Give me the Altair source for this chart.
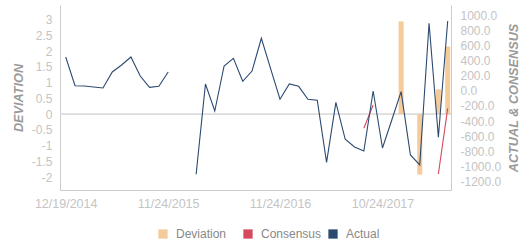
import altair as alt
import pandas as pd

dates = [
    "12/19/2014", "01/23/2015", "02/24/2015", "03/24/2015", "04/23/2015", "05/22/2015",
    "06/23/2015", "07/24/2015", "08/24/2015", "09/23/2015", "10/23/2015", "11/24/2015",
    "12/22/2015", "01/22/2016", "02/23/2016", "03/22/2016", "04/22/2016", "05/24/2016",
    "06/23/2016", "07/22/2016", "08/23/2016", "09/23/2016", "10/24/2016", "11/24/2016",
    "12/22/2016", "01/24/2017", "02/23/2017", "03/24/2017", "04/24/2017", "05/23/2017",
    "06/23/2017", "07/24/2017", "08/24/2017", "09/22/2017", "10/24/2017", "11/24/2017",
    "12/22/2017", "01/24/2018", "02/23/2018", "03/23/2018", "04/23/2018", "05/23/2018",
]

actual = [
    446, 67, 63, 50, 37, 248, 341, 446, 195, 46, 59, 248,
    None, None,
    -1102, 90, -267, 327, 429, 125, 261, 693, 290, -112, 90, 59, -112, -125,
    -944, -152, -640, -742, -795, -3, -755, -385, -12, -847, -979, 891, -614, 921,
]

consensus = [None] * 32 + [-495, -188] + [None] * 6 + [-1098, -231]

deviation = [None] * 36 + [2.95, None, -1.92, None, 0.79, 2.15]

tick_dates = ["12/19/2014", "11/24/2015", "11/24/2016", "10/24/2017"]
series_names = ["Deviation", "Consensus", "Actual"]
series_colors = ["#f5cb9b", "#d5495c", "#2b4a70"]
left_ticks = [-2, -1.5, -1, -0.5, 0, 0.5, 1, 1.5, 2, 2.5, 3]
right_ticks = [-1200, -1000, -800, -600, -400, -200, 0, 200, 400, 600, 800, 1000]

df_act = pd.DataFrame({"date": dates, "value": actual})
df_con = pd.DataFrame({"date": dates, "value": consensus})
df_dev = pd.DataFrame({"date": dates, "value": deviation, "series": "Deviation"}).dropna()

FONT = "Liberation Sans"
LABEL = "#c4c4c4"
TITLE = "#9a9a9a"
AXLINE = "#cccccc"

x_enc = alt.X(
    "date:O",
    sort=dates,
    scale=alt.Scale(type="point", padding=0.483, align=0.633),
    axis=alt.Axis(
        values=tick_dates, labelAngle=0, ticks=False, grid=False, title=None,
        domainColor=AXLINE, labelColor=LABEL, labelFontSize=12.5, labelFont=FONT,
        labelPadding=7, labelOverlap=False,
    ),
)

left_scale = alt.Scale(domain=[-2.41, 3.47], nice=False, zero=False)
left_axis = alt.Axis(
    orient="left", values=left_ticks, title="DEVIATION", ticks=False, grid=False,
    labelExpr="datum.value < 0 ? '-' + format(-datum.value, '~g') : format(datum.value, '~g')",
    domainColor=AXLINE, labelColor=LABEL, labelFontSize=12, labelFont=FONT,
    labelPadding=8, labelOverlap=False, titleColor=TITLE, titleFont=FONT,
    titleFontSize=12.7, titleFontStyle="italic", titleFontWeight="bold",
    titleX=-42, titleY=92.5, titleAngle=270, titleBaseline="middle",
    titleAlign="center",
)

bars = alt.Chart(df_dev).mark_bar(size=5).encode(
    x=x_enc,
    y=alt.Y("value:Q", scale=left_scale, axis=left_axis),
    color=alt.Color(
        "series:N",
        scale=alt.Scale(domain=series_names, range=series_colors),
        legend=alt.Legend(
            title=None, orient="none", legendX=97, legendY=223, direction="horizontal",
            columns=3, gridAlign="all", columnPadding=5, symbolType="square",
            symbolSize=86, symbolStrokeWidth=0, labelFontSize=12, labelFont=FONT,
            labelColor="#888888", labelOffset=7,
        ),
    ),
)

zero = alt.Chart(df_dev).mark_rule(color="#dddddd", strokeWidth=1).encode(
    y=alt.YDatum(0, type="quantitative", scale=left_scale, axis=left_axis)
)

left = alt.layer(zero, bars)

y_right = alt.Y(
    "value:Q",
    scale=alt.Scale(domain=[-1309, 1132], nice=False, zero=False),
    axis=alt.Axis(
        orient="right", values=right_ticks, title="ACTUAL & CONSENSUS", ticks=False, grid=False,
        labelExpr="datum.value < 0 ? '-' + format(-datum.value, '.1f') : format(datum.value, '.1f')",
        domainColor=AXLINE, labelColor=LABEL, labelFontSize=12, labelFont=FONT,
        labelPadding=9, labelOverlap=False, titleColor=TITLE, titleFont=FONT,
        titleFontSize=12.7, titleFontStyle="italic", titleFontWeight="bold",
        titleX=62, titleY=92.5, titleAngle=270, titleBaseline="middle", titleAlign="center",
    ),
)

cons_line = alt.Chart(df_con).mark_line(strokeWidth=1.1, color="#d5495c").encode(
    x=x_enc, y=y_right
)
act_line = alt.Chart(df_act).mark_line(strokeWidth=1.1, color="#2b4a70").encode(
    x=x_enc, y=y_right
)
right = alt.layer(cons_line, act_line)

chart = alt.layer(left, right).resolve_scale(y="independent").properties(
    width=391,
    height=185,
    autosize=alt.AutoSizeParams(type="none"),
    padding={"left": 60, "top": 5, "right": 80, "bottom": 60},
    background="white",
).configure_view(stroke=None)

chart.save("out.html", embed_options={"renderer": "svg", "actions": False})
